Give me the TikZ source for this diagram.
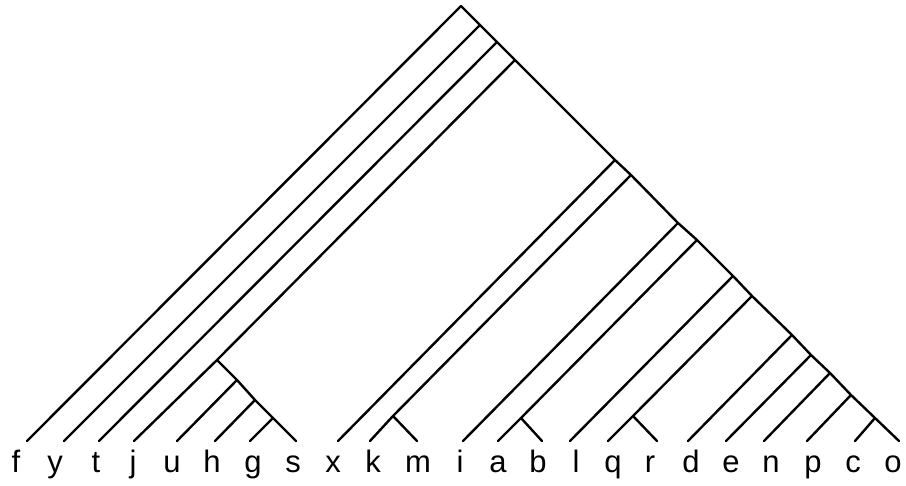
\documentclass[tikz,border=0pt]{standalone}
\usepackage{fontspec}
\setmainfont{Liberation Sans}
\begin{document}
\begin{tikzpicture}[x=1pt,y=-1pt,
  br/.style={line width=2.4pt, line cap=round, line join=round},
  lab/.style={anchor=base, inner sep=0pt, font=\fontsize{31}{31}\selectfont}]
\useasboundingbox (0,0) rectangle (906,486);
\fill[white] (0,0) rectangle (906,486);
% leaf ends
\foreach \n/\x in {f/27,y/64,t/99,j/134,u/177,h/215,g/250,s/296,x/338,k/370,m/417,i/463,a/498,b/542,l/570,q/608,r/657,d/688,e/726,n/764,p/807,c/855,o/899}
  \coordinate (L\n) at (\x,441);
% labels
\foreach \n/\x in {f/16,y/55,t/96,j/133,u/172,h/212,g/253,s/293,x/333,k/373,m/418,i/460,a/498,b/538,l/576,q/613,r/650,d/691,e/731,n/771,p/813,c/853,o/893}
  \node[lab] (t\n) at (\x,473) {\n};
% internal nodes
\coordinate (R) at (461,6);
\coordinate (N1) at (480,25);
\coordinate (N2) at (497,42);
\coordinate (N3) at (515,60);
\coordinate (N4) at (615,160);
\coordinate (N5) at (631,175);
\coordinate (N6) at (678,223);
\coordinate (N7) at (697,240);
\coordinate (N8) at (733,276);
\coordinate (N9) at (752,296);
\coordinate (N10) at (792,335);
\coordinate (N11) at (811,355);
\coordinate (N12) at (830,373);
\coordinate (N13) at (851,395);
\coordinate (N14) at (875,418);
\coordinate (J) at (217,360);
\coordinate (Ju) at (237,380);
\coordinate (Jh) at (255,400);
\coordinate (Jg) at (273,418);
\coordinate (K) at (393,416);
\coordinate (A) at (521,418);
\coordinate (Q) at (633,416);
% spine
\draw[br] (Lf) -- (R) -- (N1) -- (N2) -- (N3) -- (N4) -- (N5) -- (N6) -- (N7) -- (N8) -- (N9) -- (N10) -- (N11) -- (N12) -- (N13) -- (N14) -- (Lo);
% branches
\draw[br] (Ly) -- (N1);
\draw[br] (Lt) -- (N2);
\draw[br] (Lj) -- (J) -- (N3);
\draw[br] (J) -- (Ju) -- (Jh) -- (Jg) -- (Ls);
\draw[br] (Lu) -- (Ju);
\draw[br] (Lh) -- (Jh);
\draw[br] (Lg) -- (Jg);
\draw[br] (Lx) -- (N4);
\draw[br] (Lk) -- (K) -- (N5);
\draw[br] (K) -- (Lm);
\draw[br] (Li) -- (N6);
\draw[br] (La) -- (A) -- (N7);
\draw[br] (A) -- (Lb);
\draw[br] (Ll) -- (N8);
\draw[br] (Lq) -- (Q) -- (N9);
\draw[br] (Q) -- (Lr);
\draw[br] (Ld) -- (N10);
\draw[br] (Le) -- (N11);
\draw[br] (Ln) -- (N12);
\draw[br] (Lp) -- (N13);
\draw[br] (Lc) -- (N14);
\end{tikzpicture}
\end{document}
